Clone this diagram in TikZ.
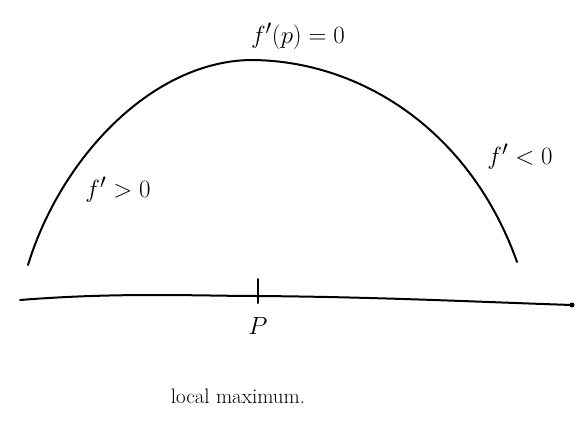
\documentclass[tikz,border=0pt]{standalone}
\usepackage{amsmath}
\usepackage{amssymb}
\usepackage{tikz}
\usepackage{xcolor}

\begin{document}
\begin{tikzpicture}[x=1pt,y=-1pt,line width=2pt,line cap=round]
\useasboundingbox (0,0) rectangle (580,423);
% curve
\draw (28,265) .. controls (60,160) and (150,62) .. (250,60)
      .. controls (360,60) and (470,130) .. (517,262);
% axis
\draw (20,300) .. controls (120,292) and (200,296) .. (258,296)
      .. controls (380,297) and (480,302) .. (572,305);
\fill (572,305) circle (2.5);
\draw (258,279) -- (258,303);
\node (p) at (258,326) {\fontsize{28}{30}\selectfont $P$};
\node (top) at (298,36) {\fontsize{28}{30}\selectfont $f'(p)=0$};
\node (left) at (118,190) {\fontsize{28}{30}\selectfont $f'>0$};
\node (right) at (520,157) {\fontsize{28}{30}\selectfont $f'<0$};
\node (lbl) at (238,396) {\fontsize{21}{24}\selectfont local maximum.};
\end{tikzpicture}
\end{document}
